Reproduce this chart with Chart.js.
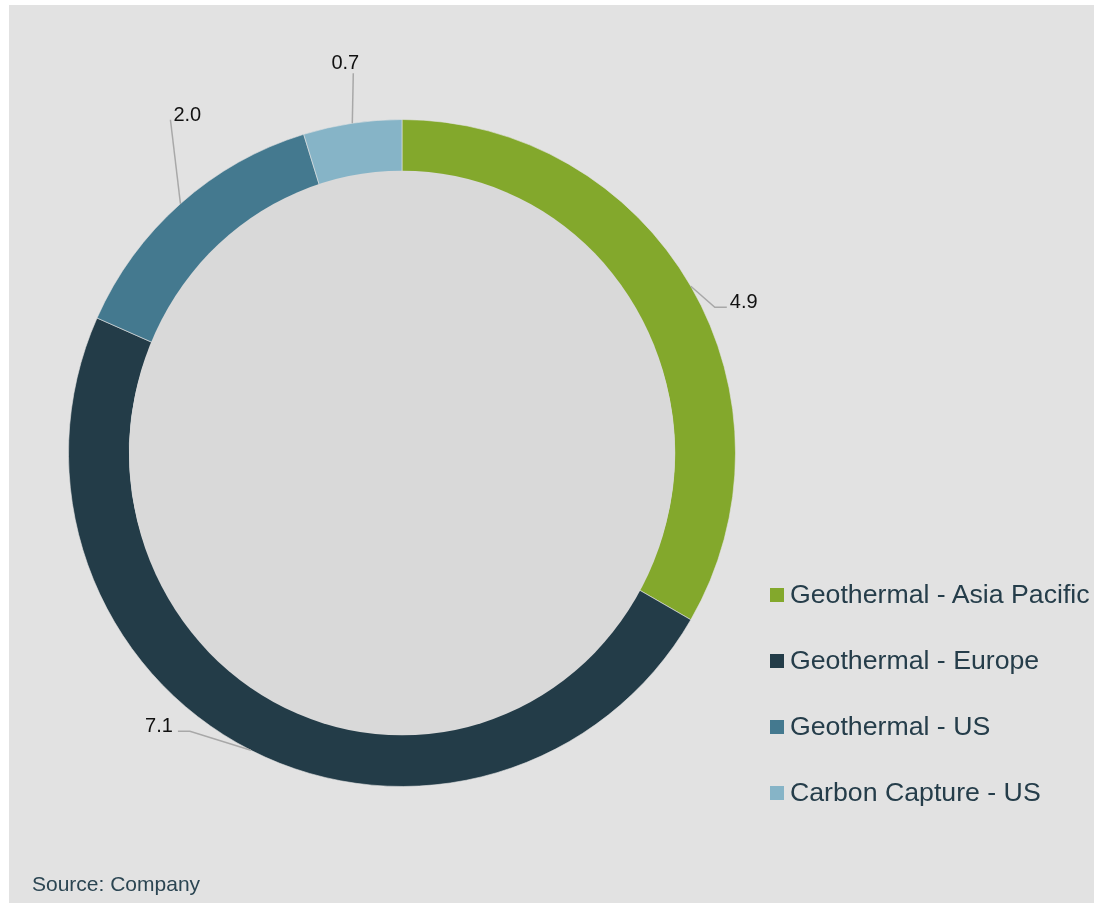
<!DOCTYPE html>
<html>
<head>
<meta charset="utf-8">
<script src="https://cdn.jsdelivr.net/npm/chart.js@4.4.1/dist/chart.umd.min.js"></script>
<style>
  html, body { margin: 0; padding: 0; background: #fff; }
  body { width: 1094px; height: 906px; position: relative; overflow: hidden;
         font-family: "Liberation Sans", Arial, sans-serif; }
  .panel { position: absolute; left: 9px; top: 5px; width: 1085px; height: 898px; background: #e2e2e2; }
  #wrap { position: absolute; left: 0; top: 0; width: 1094px; height: 906px; }
  #legend { position: absolute; left: 770px; top: 577px; }
  #legend .item { display: flex; align-items: center; height: 34px; margin-bottom: 32px;
                  font-size: 26.7px; color: #253d4a; white-space: nowrap; }
  #legend .box { width: 14px; height: 14px; margin-right: 6px; margin-top: 1px; }
  .source { position: absolute; left: 32px; top: 872px; font-size: 21px; color: #2b4552; }
</style>
</head>
<body>
<div class="panel"></div>
<div id="wrap"><canvas id="ringChart"></canvas></div>
<div id="legend"></div>
<div class="source">Source: Company</div>

<script>
const segments = ["Geothermal - Asia Pacific", "Geothermal - Europe", "Geothermal - US", "Carbon Capture - US"];
const amounts = [4.9, 7.1, 2.0, 0.7];
const colors = ["#83a82c", "#233c48", "#44798f", "#86b4c7"];

// leader line shape per slice: bend point and tail relative to the arc edge
const leaders = [
  { bend: [24, 21], tail: 12, align: "left", text: [3, 1] },
  { bend: [-61, -19], tail: -12, align: "right", text: [-5, 1] },
  { bend: [-10, -84], tail: 0, align: "left", text: [3, 1] },
  { bend: [1, -50], tail: 0, align: "center", text: [-8, -4] },
];

/* =========================
   INNER DISC + VALUE LABELS
========================= */
const ringDecor = {
  id: "ringDecor",
  afterDatasetsDraw(chart) {
    const ctx = chart.ctx;
    const arcs = chart.getDatasetMeta(0).data;
    if (!arcs.length) return;

    // centre disc, slightly taller than wide, laid over the ring
    const c = arcs[0].getProps(["x", "y", "innerRadius"], true);
    ctx.save();
    ctx.fillStyle = "#d9d9d9";
    ctx.beginPath();
    ctx.ellipse(c.x, c.y, c.innerRadius, c.innerRadius * 1.035, 0, 0, Math.PI * 2);
    ctx.fill();
    ctx.restore();

    const values = chart.data.datasets[0].data;
    ctx.save();
    ctx.font = '20px "Liberation Sans", Arial, sans-serif';
    ctx.textBaseline = "alphabetic";
    arcs.forEach((arc, i) => {
      const p = arc.getProps(["x", "y", "startAngle", "endAngle", "outerRadius"], true);
      const mid = (p.startAngle + p.endAngle) / 2;
      const ax = p.x + Math.cos(mid) * p.outerRadius;
      const ay = p.y + Math.sin(mid) * p.outerRadius;
      const l = leaders[i];
      const bx = ax + l.bend[0];
      const by = ay + l.bend[1];
      const ex = bx + l.tail;

      ctx.strokeStyle = "#a8a8a8";
      ctx.lineWidth = 1.5;
      ctx.beginPath();
      ctx.moveTo(ax, ay);
      ctx.lineTo(bx, by);
      if (l.tail) ctx.lineTo(ex, by);
      ctx.stroke();

      ctx.fillStyle = "#111";
      ctx.textAlign = l.align;
      ctx.fillText(values[i].toFixed(1), ex + l.text[0], by + l.text[1]);
    });
    ctx.restore();
  },
};

const ringCtx = document.getElementById("ringChart").getContext("2d");
const ringChart = new Chart(ringCtx, {
  type: "doughnut",
  data: {
    labels: segments,
    datasets: [
      {
        data: amounts,
        backgroundColor: colors,
        borderColor: "rgba(226,226,226,0.6)",
        borderWidth: 1,
      },
    ],
  },
  options: {
    responsive: true,
    maintainAspectRatio: false,
    animation: false,
    cutout: "81.8%",
    layout: { padding: { top: 118, bottom: 118, left: 68, right: 358 } },
    plugins: {
      legend: { display: false },
      tooltip: { enabled: false },
    },
  },
  plugins: [ringDecor],
});

// legend built from the same arrays
const legendEl = document.getElementById("legend");
segments.forEach((name, i) => {
  const row = document.createElement("div");
  row.className = "item";
  const box = document.createElement("span");
  box.className = "box";
  box.style.background = colors[i];
  const label = document.createElement("span");
  label.textContent = name;
  row.appendChild(box);
  row.appendChild(label);
  legendEl.appendChild(row);
});
</script>
</body>
</html>
